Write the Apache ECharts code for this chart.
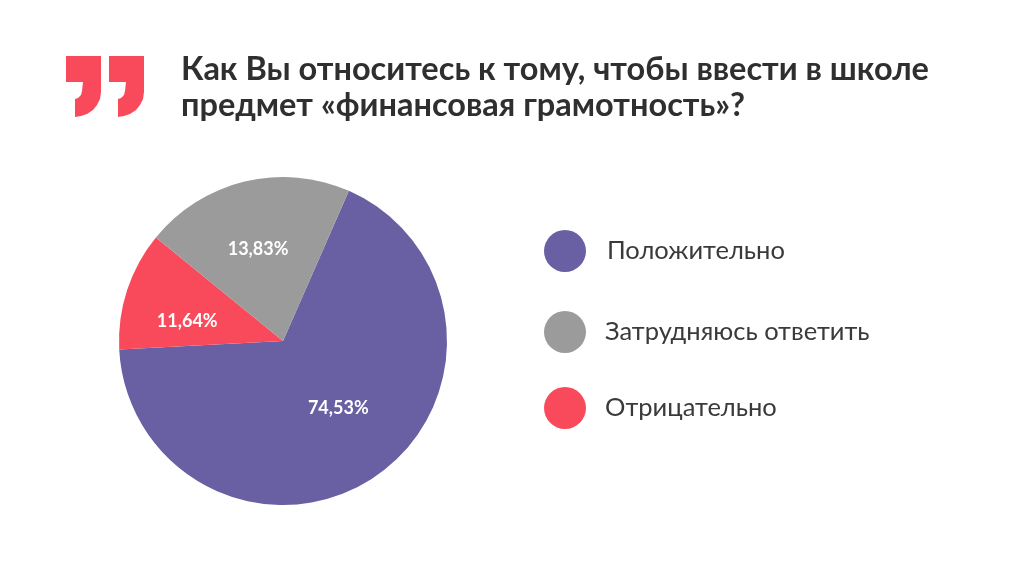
<!DOCTYPE html>
<html>
<head>
<meta charset="utf-8">
<style>
html,body{margin:0;padding:0;background:#fff;}
#chart{width:1024px;height:577px;}
</style>
<script src="https://cdn.jsdelivr.net/npm/echarts@6/dist/echarts.min.js"></script>
</head>
<body>
<div id="chart"></div>
<script>
var titleLines = ['Как Вы относитесь к тому, чтобы ввести в школе', 'предмет «финансовая грамотность»?'];
var categories = ['Положительно', 'Отрицательно', 'Затрудняюсь ответить'];
// slice sizes as drawn in the picture (they differ from the printed percentages)
var sliceSizes = [67.6, 11.7, 20.7];
var printedLabels = ['74,53%', '11,64%', '13,83%'];
var colors = ['#695fa3', '#f94a5b', '#9b9b9b'];

var FONT = 'Lato, "Open Sans", sans-serif';
var labelOffsets = [[7, -3], [-15, 7], [-5, -9]];
var legendTops = [225, 306, 382];
var legendTextGaps = [16, 14, 14];
var legendOrder = [0, 2, 1];
var quoteOutline = [[0,0],[35,0],[35,36],[34,43],[31,49],[27,54],[21,58],[15,60],[9,61],[9,43],[12,42],[15,39],[16,35],[17,26],[0,26]];

var pieData = [];
for (var i = 0; i < categories.length; i++) {
	pieData.push({
		name: categories[i],
		value: sliceSizes[i],
		itemStyle: {color: colors[i]},
		label: {formatter: printedLabels[i], offset: labelOffsets[i]}
	});
}

var legends = [];
for (var j = 0; j < legendOrder.length; j++) {
	legends.push({
		left: 539,
		top: legendTops[j],
		data: [categories[legendOrder[j]]],
		icon: 'circle',
		itemWidth: 42,
		itemHeight: 42,
		itemGap: 0,
		selectedMode: false,
		textStyle: {fontFamily: FONT, fontSize: 25.5, color: '#3a3a3a', padding: [2, 0, 0, legendTextGaps[j]]}
	});
}

function quote(x) {
	return {
		type: 'polygon',
		x: x,
		y: 56,
		shape: {points: quoteOutline},
		style: {fill: '#f94a5b'}
	};
}

var chart = echarts.init(document.getElementById('chart'));
chart.setOption({
	animation: false,
	backgroundColor: '#ffffff',
	title: {
		text: titleLines.join('\n'),
		left: 181,
		top: 52,
		padding: 0,
		textStyle: {fontFamily: FONT, fontSize: 32.5, fontWeight: 'bold', color: '#2f2f2f', lineHeight: 36}
	},
	legend: legends,
	graphic: [quote(66), quote(109)],
	series: [{
		type: 'pie',
		center: [283, 341],
		radius: 164,
		startAngle: 66.3,
		clockwise: true,
		silent: true,
		data: pieData,
		labelLine: {show: false},
		label: {
			show: true,
			position: 'inside',
			fontFamily: FONT,
			fontSize: 18,
			fontWeight: 'bold',
			color: '#ffffff'
		}
	}]
});
</script>
</body>
</html>
